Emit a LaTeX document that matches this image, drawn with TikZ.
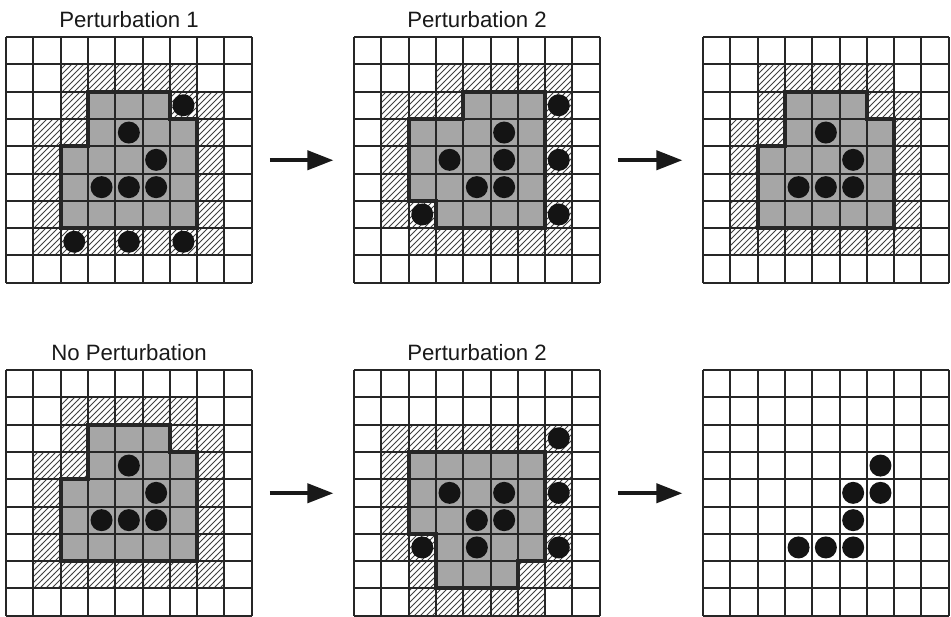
\documentclass[tikz,border=0pt]{standalone}
\usepackage{fontspec}
\setmainfont{Liberation Sans}
\usetikzlibrary{patterns,arrows.meta}

\begin{document}
\begin{tikzpicture}[x=0.5pt,y=-0.5pt,
  cellunits/.style={x=13.65pt,y=-13.65pt},
  gridline/.style={line width=1pt,black!85},
  region/.style={fill=black!35},
  border/.style={line width=2pt,black!85,line join=miter},
  hatch/.style={pattern=north east lines,pattern color=black!75},
  dot/.style={fill=black!92},
  title/.style={anchor=base,inner sep=0pt,text=black!90,font=\fontsize{11.1}{13}\selectfont},
  gridbox/.style={anchor=north west,inner sep=0pt,minimum width=122.85pt,minimum height=122.85pt},
  bigarrow/.style={-{Triangle[length=13pt,width=9.5pt]},line width=2pt,black!90,shorten <=8.7pt,shorten >=10.3pt}]

\useasboundingbox (0,0) rectangle (951,616);

% titles
\node (t1) [title] at (129,27) {Perturbation 1};
\node (t2) [title] at (477,27) {Perturbation 2};
\node (t4) [title] at (129,360) {No Perturbation};
\node (t5) [title] at (477,360) {Perturbation 2};

% grid boxes
\node (g1) [gridbox] at (6,37) {};
\node (g2) [gridbox] at (354,37) {};
\node (g3) [gridbox] at (703,37) {};
\node (g4) [gridbox] at (6,370) {};
\node (g5) [gridbox] at (354,370) {};
\node (g6) [gridbox] at (703,370) {};

% grid 1
\begin{scope}[shift={(6,37)},cellunits]
\fill[hatch] (2,1) -- (7,1) -- (7,2) -- (8,2) -- (8,8) -- (1,8) -- (1,3) -- (2,3) -- cycle;
\fill[region] (3,2) -- (6,2) -- (6,3) -- (7,3) -- (7,7) -- (2,7) -- (2,4) -- (3,4) -- cycle;
\foreach \i in {0,...,9} {
  \draw[gridline] (\i,0) -- (\i,9);
  \draw[gridline] (0,\i) -- (9,\i);
}
\draw[border] (3,2) -- (6,2) -- (6,3) -- (7,3) -- (7,7) -- (2,7) -- (2,4) -- (3,4) -- cycle;
\foreach \c/\r in {6/2,4/3,5/4,3/5,4/5,5/5,2/7,4/7,6/7}
  \fill[dot] (\c+0.5,\r+0.5) circle (5.5pt);
\end{scope}

% grid 2
\begin{scope}[shift={(354,37)},cellunits]
\fill[hatch] (3,1) -- (8,1) -- (8,8) -- (2,8) -- (2,7) -- (1,7) -- (1,2) -- (3,2) -- cycle;
\fill[region] (4,2) -- (7,2) -- (7,7) -- (3,7) -- (3,6) -- (2,6) -- (2,3) -- (4,3) -- cycle;
\foreach \i in {0,...,9} {
  \draw[gridline] (\i,0) -- (\i,9);
  \draw[gridline] (0,\i) -- (9,\i);
}
\draw[border] (4,2) -- (7,2) -- (7,7) -- (3,7) -- (3,6) -- (2,6) -- (2,3) -- (4,3) -- cycle;
\foreach \c/\r in {7/2,5/3,3/4,5/4,7/4,4/5,5/5,2/6,7/6}
  \fill[dot] (\c+0.5,\r+0.5) circle (5.5pt);
\end{scope}

% grid 3
\begin{scope}[shift={(703,37)},cellunits]
\fill[hatch] (2,1) -- (7,1) -- (7,2) -- (8,2) -- (8,8) -- (1,8) -- (1,3) -- (2,3) -- cycle;
\fill[region] (3,2) -- (6,2) -- (6,3) -- (7,3) -- (7,7) -- (2,7) -- (2,4) -- (3,4) -- cycle;
\foreach \i in {0,...,9} {
  \draw[gridline] (\i,0) -- (\i,9);
  \draw[gridline] (0,\i) -- (9,\i);
}
\draw[border] (3,2) -- (6,2) -- (6,3) -- (7,3) -- (7,7) -- (2,7) -- (2,4) -- (3,4) -- cycle;
\foreach \c/\r in {4/3,5/4,3/5,4/5,5/5}
  \fill[dot] (\c+0.5,\r+0.5) circle (5.5pt);
\end{scope}

% grid 4
\begin{scope}[shift={(6,370)},cellunits]
\fill[hatch] (2,1) -- (7,1) -- (7,2) -- (8,2) -- (8,8) -- (1,8) -- (1,3) -- (2,3) -- cycle;
\fill[region] (3,2) -- (6,2) -- (6,3) -- (7,3) -- (7,7) -- (2,7) -- (2,4) -- (3,4) -- cycle;
\foreach \i in {0,...,9} {
  \draw[gridline] (\i,0) -- (\i,9);
  \draw[gridline] (0,\i) -- (9,\i);
}
\draw[border] (3,2) -- (6,2) -- (6,3) -- (7,3) -- (7,7) -- (2,7) -- (2,4) -- (3,4) -- cycle;
\foreach \c/\r in {4/3,5/4,3/5,4/5,5/5}
  \fill[dot] (\c+0.5,\r+0.5) circle (5.5pt);
\end{scope}

% grid 5
\begin{scope}[shift={(354,370)},cellunits]
\fill[hatch] (1,2) -- (8,2) -- (8,8) -- (7,8) -- (7,9) -- (2,9) -- (2,7) -- (1,7) -- cycle;
\fill[region] (2,3) -- (7,3) -- (7,7) -- (6,7) -- (6,8) -- (3,8) -- (3,6) -- (2,6) -- cycle;
\foreach \i in {0,...,9} {
  \draw[gridline] (\i,0) -- (\i,9);
  \draw[gridline] (0,\i) -- (9,\i);
}
\draw[border] (2,3) -- (7,3) -- (7,7) -- (6,7) -- (6,8) -- (3,8) -- (3,6) -- (2,6) -- cycle;
\foreach \c/\r in {7/2,3/4,5/4,7/4,4/5,5/5,2/6,4/6,7/6}
  \fill[dot] (\c+0.5,\r+0.5) circle (5.5pt);
\end{scope}

% grid 6
\begin{scope}[shift={(703,370)},cellunits]
\foreach \i in {0,...,9} {
  \draw[gridline] (\i,0) -- (\i,9);
  \draw[gridline] (0,\i) -- (9,\i);
}
\foreach \c/\r in {6/3,5/4,6/4,5/5,3/6,4/6,5/6}
  \fill[dot] (\c+0.5,\r+0.5) circle (5.5pt);
\end{scope}

\draw[bigarrow] (g1) -- (g2);
\draw[bigarrow] (g2) -- (g3);
\draw[bigarrow] (g4) -- (g5);
\draw[bigarrow] (g5) -- (g6);
\end{tikzpicture}
\end{document}
